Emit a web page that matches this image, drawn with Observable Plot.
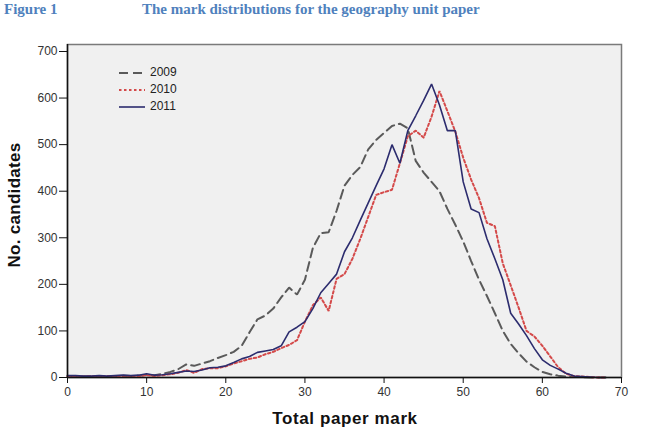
<!DOCTYPE html>
<html>
<head>
<meta charset="utf-8">
<script src="https://cdn.jsdelivr.net/npm/d3@7"></script>
<script src="https://cdn.jsdelivr.net/npm/@observablehq/plot@0.6"></script>
<style>
  html, body { margin: 0; padding: 0; background: #fff; }
  #wrap { position: relative; width: 646px; height: 430px; overflow: hidden; font-family: "Liberation Sans", Arial, sans-serif; }
  .title { position: absolute; top: 1px; line-height: 16px; font-family: "Liberation Serif", serif; font-weight: bold; font-size: 15px; color: #4f81bd; white-space: nowrap; }
  #legend { position: absolute; left: 118px; top: 64px; font-size: 12px; color: #222; line-height: 17px; }
  #legend div { display: flex; align-items: center; height: 17px; }
  #legend svg { margin-right: 4px; }
  .axlabel { position: absolute; font-weight: bold; color: #111; white-space: nowrap; }
</style>
</head>
<body>
<div id="wrap">
  <div class="title" style="left:4px">Figure 1</div>
  <div class="title" style="left:142px">The mark distributions for the geography unit paper</div>
  <div id="chart"></div>
  <div id="legend"></div>
  <div class="axlabel" style="left:345px; top:409px; font-size:17px; letter-spacing:0.6px; transform:translateX(-50%)">Total paper mark</div>
  <div class="axlabel" style="left:15px; top:205px; font-size:17px; letter-spacing:0.3px; transform:translate(-50%,-50%) rotate(-90deg)">No. candidates</div>
</div>
<script>
const marks = d3.range(0, 69);
const y2009 = [3,2,2,3,2,3,3,4,3,4,6,5,8,12,18,28,25,30,35,42,48,55,68,97,125,133,148,172,193,178,210,278,310,312,358,412,435,452,490,510,525,540,545,535,465,440,420,400,362,328,292,250,210,175,138,100,72,52,34,22,12,7,4,2,1,1,0,0,0];
const y2010 = [2,2,2,3,2,3,3,3,3,3,5,3,5,7,10,16,10,18,20,20,24,30,35,40,43,50,55,63,70,80,120,155,172,143,212,222,255,298,345,392,398,403,460,518,530,515,560,615,572,528,472,425,385,332,325,245,198,150,100,88,68,45,22,8,3,2,1,0,0];
const y2011 = [4,4,3,3,4,3,4,5,4,5,8,5,6,8,11,14,13,16,21,22,25,32,40,45,54,57,60,68,98,108,120,148,182,202,222,270,300,338,375,412,448,500,460,530,562,595,630,585,530,530,420,362,354,298,255,210,138,115,90,62,38,26,18,9,3,2,1,0,0];
const years = ["2009", "2010", "2011"];
const xTicks = [0, 10, 20, 30, 40, 50, 60, 70];
const yTicks = [0, 100, 200, 300, 400, 500, 600, 700];

const seriesStyle = {
  "2009": {stroke: "#5a5a5a", strokeWidth: 2, dash: "9,5"},
  "2010": {stroke: "#d44a4a", strokeWidth: 2, dash: "2.5,2.5"},
  "2011": {stroke: "#2c2c6e", strokeWidth: 1.6, dash: null}
};
const seriesValues = {"2009": y2009, "2010": y2010, "2011": y2011};

const lineMarks = years.map(yr => {
  const rows = marks.map((m, i) => ({mark: m, n: seriesValues[yr][i]}));
  const s = seriesStyle[yr];
  return Plot.line(rows, {x: "mark", y: "n", stroke: s.stroke, strokeWidth: s.strokeWidth, strokeDasharray: s.dash, strokeLinejoin: "miter"});
});

const chart = Plot.plot({
  width: 646,
  height: 430,
  marginLeft: 67,
  marginRight: 25,
  marginTop: 44,
  marginBottom: 53,
  style: {fontFamily: "'Liberation Sans', Arial, sans-serif", fontSize: "12px", color: "#333", background: "transparent"},
  x: {domain: [0, 70]},
  y: {domain: [0, 715]},
  marks: [
    Plot.frame({fill: "#f0f0f0", stroke: "#7a7a7a", strokeWidth: 1.5}),
    ...lineMarks,
    Plot.axisX({ticks: xTicks, tickSize: 6, tickPadding: 4, label: null, stroke: "#111"}),
    Plot.axisY({ticks: yTicks, tickSize: 8, tickPadding: 2, label: null, stroke: "#111"}),
    Plot.ruleX([0], {stroke: "#111", strokeWidth: 1.5}),
    Plot.ruleY([0], {stroke: "#111", strokeWidth: 1.5})
  ]
});
document.getElementById("chart").appendChild(chart);

const legend = document.getElementById("legend");
years.forEach(yr => {
  const s = seriesStyle[yr];
  const row = document.createElement("div");
  row.innerHTML = `<svg width="28" height="6"><line x1="1" y1="3" x2="27" y2="3" stroke="${s.stroke}" stroke-width="${s.strokeWidth}" ${s.dash ? `stroke-dasharray="${s.dash}"` : ""}/></svg><span>${yr}</span>`;
  legend.appendChild(row);
});
</script>
</body>
</html>
